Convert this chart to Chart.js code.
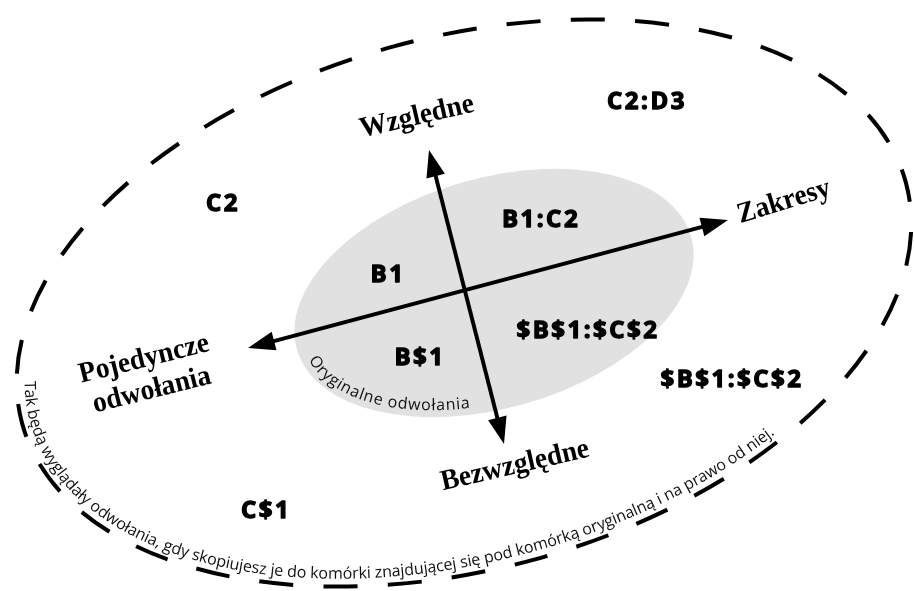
<!DOCTYPE html>
<html lang="pl">
<head>
<meta charset="utf-8">
<title>Odwołania do komórek</title>
<script src="https://cdn.jsdelivr.net/npm/chart.js@4.4.1/dist/chart.umd.min.js"></script>
<style>
    html, body { margin: 0; padding: 0; background: #fff; }
    #wrap { position: relative; width: 914px; height: 591px; }
</style>
</head>
<body>
<div id="wrap"><canvas id="refChart"></canvas></div>
<script>
// Cell references placed around the original cell
const cellRefLabels = ['C2:D3', 'C2', 'B1:C2', 'B1', '$B$1:$C$2', 'B$1', '$B$1:$C$2', 'C$1'];
const cellRefX = [646, 222, 540, 387, 587, 419, 731, 265];
const cellRefY = [102, 204, 220, 275, 331, 358, 380, 511];

// Names at the arrow ends
const axisNames = ['Względne', 'Zakresy', 'Pojedyncze\nodwołania', 'Bezwzględne'];
const axisNameX = [417, 784, 148, 515];
const axisNameY = [117, 202, 375, 466];
const axisNameAngle = [-13, -17, -14, -13];

// Arrow tips
const verticalArrowX = [429, 504];
const verticalArrowY = [150, 444];
const horizontalArrowX = [248, 728];
const horizontalArrowY = [348, 220];

// Ellipses: centre x, centre y, radius x, radius y, rotation (deg)
const originalArea = [494, 293, 205, 115, -16];
const copiedArea = [464, 303, 458, 266, -15.3];

// Captions written along the ellipses, from / to ellipse parameter (rad)
const captionTexts = [
    'Oryginalne odwołania',
    'Tak będą wyglądały odwołania, gdy skopiujesz je do komórki znajdującej się pod komórką oryginalną i na prawo od niej.'
];
const captionFrom = [3.02, 3.30];
const captionTo = [1.85, 0.94];

// Shaft of an arrow, pulled back under the heads
function shaft(xs, ys, inset) {
    const dx = xs[1] - xs[0], dy = ys[1] - ys[0];
    const len = Math.hypot(dx, dy);
    const ux = dx / len, uy = dy / len;
    return [
        { x: xs[0] + ux * inset, y: ys[0] + uy * inset },
        { x: xs[1] - ux * inset, y: ys[1] - uy * inset }
    ];
}

function ellipseToPixels(chart, e) {
    const xs = chart.scales.x, ys = chart.scales.y;
    return {
        cx: xs.getPixelForValue(e[0]),
        cy: ys.getPixelForValue(e[1]),
        rx: Math.abs(xs.getPixelForValue(e[2]) - xs.getPixelForValue(0)),
        ry: Math.abs(ys.getPixelForValue(e[3]) - ys.getPixelForValue(0)),
        rot: e[4] * Math.PI / 180
    };
}

function ellipsePoint(e, rx, ry, t) {
    const c = Math.cos(e.rot), s = Math.sin(e.rot);
    const lx = rx * Math.cos(t), ly = ry * Math.sin(t);
    return [e.cx + lx * c - ly * s, e.cy + lx * s + ly * c];
}

function ellipsePerimeter(e) {
    let len = 0, prev = ellipsePoint(e, e.rx, e.ry, 0);
    for (let i = 1; i <= 2000; i++) {
        const p = ellipsePoint(e, e.rx, e.ry, i / 2000 * Math.PI * 2);
        len += Math.hypot(p[0] - prev[0], p[1] - prev[1]);
        prev = p;
    }
    return len;
}

// Lay text along an ellipse, spread between two parameters
function textOnEllipse(ctx, text, e, inset, t0, t1) {
    const rx = e.rx - inset, ry = e.ry - inset;
    const N = 1500;
    const pts = [], cum = [0];
    for (let i = 0; i <= N; i++) {
        pts.push(ellipsePoint(e, rx, ry, t0 + (t1 - t0) * i / N));
        if (i > 0) cum.push(cum[i - 1] + Math.hypot(pts[i][0] - pts[i - 1][0], pts[i][1] - pts[i - 1][1]));
    }
    const chars = Array.from(text);
    const widths = chars.map(ch => ctx.measureText(ch).width);
    const total = widths.reduce((a, b) => a + b, 0);
    const gap = (cum[N] - total) / (chars.length - 1);
    let pos = 0, k = 0;
    chars.forEach((ch, i) => {
        const mid = pos + widths[i] / 2;
        while (k < N - 1 && cum[k + 1] < mid) k++;
        const f = (mid - cum[k]) / ((cum[k + 1] - cum[k]) || 1);
        const x = pts[k][0] + (pts[k + 1][0] - pts[k][0]) * f;
        const y = pts[k][1] + (pts[k + 1][1] - pts[k][1]) * f;
        const ang = Math.atan2(pts[k + 1][1] - pts[k][1], pts[k + 1][0] - pts[k][0]);
        ctx.save();
        ctx.translate(x, y);
        ctx.rotate(ang);
        ctx.fillText(ch, 0, 0);
        ctx.restore();
        pos += widths[i] + gap;
    });
}

function drawArrowHead(ctx, from, tip) {
    const ang = Math.atan2(tip.y - from.y, tip.x - from.x);
    ctx.save();
    ctx.translate(tip.x, tip.y);
    ctx.rotate(ang);
    ctx.beginPath();
    ctx.moveTo(0, 0);
    ctx.lineTo(-27, -9.5);
    ctx.lineTo(-27, 9.5);
    ctx.closePath();
    ctx.fill();
    ctx.restore();
}

const diagramPlugin = {
    id: 'diagram',
    beforeDatasetsDraw(chart) {
        const ctx = chart.ctx;
        const e = ellipseToPixels(chart, originalArea);
        ctx.save();
        ctx.fillStyle = '#e1e1e1';
        ctx.beginPath();
        ctx.ellipse(e.cx, e.cy, e.rx, e.ry, e.rot, 0, Math.PI * 2);
        ctx.fill();
        ctx.restore();
    },
    afterDatasetsDraw(chart) {
        const ctx = chart.ctx;
        const xs = chart.scales.x, ys = chart.scales.y;

        // arrow heads
        ctx.save();
        ctx.fillStyle = '#000';
        [[verticalArrowX, verticalArrowY], [horizontalArrowX, horizontalArrowY]].forEach(([ax, ay]) => {
            const p0 = { x: xs.getPixelForValue(ax[0]), y: ys.getPixelForValue(ay[0]) };
            const p1 = { x: xs.getPixelForValue(ax[1]), y: ys.getPixelForValue(ay[1]) };
            drawArrowHead(ctx, p1, p0);
            drawArrowHead(ctx, p0, p1);
        });
        ctx.restore();

        // outer dashed ellipse
        const outer = ellipseToPixels(chart, copiedArea);
        const perim = ellipsePerimeter(outer);
        const period = perim / Math.round(perim / 64.5);
        const dash = period * 0.53;
        ctx.save();
        ctx.strokeStyle = '#000';
        ctx.lineWidth = 4;
        ctx.setLineDash([dash, period - dash]);
        ctx.lineDashOffset = 14;
        ctx.beginPath();
        ctx.ellipse(outer.cx, outer.cy, outer.rx, outer.ry, outer.rot, 0, Math.PI * 2);
        ctx.stroke();
        ctx.restore();

        // cell reference labels (heavy sans, thickened with a thin stroke)
        const refMeta = chart.getDatasetMeta(2);
        ctx.save();
        ctx.fillStyle = '#000';
        ctx.strokeStyle = '#000';
        ctx.lineWidth = 1.3;
        ctx.lineJoin = 'round';
        ctx.font = 'bold 24px "Open Sans"';
        ctx.letterSpacing = '2.5px';
        ctx.textAlign = 'center';
        ctx.textBaseline = 'middle';
        refMeta.data.forEach((pt, i) => {
            ctx.fillText(cellRefLabels[i], pt.x + 1, pt.y);
            ctx.strokeText(cellRefLabels[i], pt.x + 1, pt.y);
        });
        ctx.restore();

        // axis names
        const nameMeta = chart.getDatasetMeta(3);
        ctx.save();
        ctx.fillStyle = '#000';
        ctx.font = 'bold 29px "Liberation Serif"';
        ctx.textAlign = 'center';
        ctx.textBaseline = 'middle';
        nameMeta.data.forEach((pt, i) => {
            const lines = axisNames[i].split('\n');
            ctx.save();
            ctx.translate(pt.x, pt.y);
            ctx.rotate(axisNameAngle[i] * Math.PI / 180);
            ctx.scale(0.95, 1);
            lines.forEach((line, j) => ctx.fillText(line, 0, (j - (lines.length - 1) / 2) * 32));
            ctx.restore();
        });
        ctx.restore();

        // captions along the ellipses
        const inner = ellipseToPixels(chart, originalArea);
        ctx.save();
        ctx.fillStyle = '#111';
        ctx.textAlign = 'center';
        ctx.textBaseline = 'alphabetic';
        ctx.font = '16px "Open Sans"';
        textOnEllipse(ctx, captionTexts[0], inner, 7, captionFrom[0], captionTo[0]);
        ctx.font = '16px "Open Sans"';
        textOnEllipse(ctx, captionTexts[1], outer, 8, captionFrom[1], captionTo[1]);
        ctx.restore();
    }
};

const arrowStyle = {
    type: 'line',
    borderColor: '#000',
    borderWidth: 4,
    pointRadius: 0,
    fill: false,
    tension: 0
};

new Chart(document.getElementById('refChart').getContext('2d'), {
    type: 'scatter',
    data: {
        datasets: [
            Object.assign({ label: 'Względne / Bezwzględne', data: shaft(verticalArrowX, verticalArrowY, 20), showLine: true }, arrowStyle),
            Object.assign({ label: 'Pojedyncze / Zakresy', data: shaft(horizontalArrowX, horizontalArrowY, 20), showLine: true }, arrowStyle),
            {
                label: 'Odwołania',
                data: cellRefLabels.map((_, i) => ({ x: cellRefX[i], y: cellRefY[i] })),
                pointRadius: 0
            },
            {
                label: 'Rodzaje',
                data: axisNames.map((_, i) => ({ x: axisNameX[i], y: axisNameY[i] })),
                pointRadius: 0
            }
        ]
    },
    options: {
        responsive: true,
        maintainAspectRatio: false,
        animation: false,
        events: [],
        layout: { padding: 0 },
        plugins: {
            legend: { display: false },
            tooltip: { enabled: false }
        },
        scales: {
            x: { type: 'linear', min: 0, max: 914, display: false },
            y: { type: 'linear', min: 0, max: 591, reverse: true, display: false }
        }
    },
    plugins: [diagramPlugin]
});
</script>
</body>
</html>
